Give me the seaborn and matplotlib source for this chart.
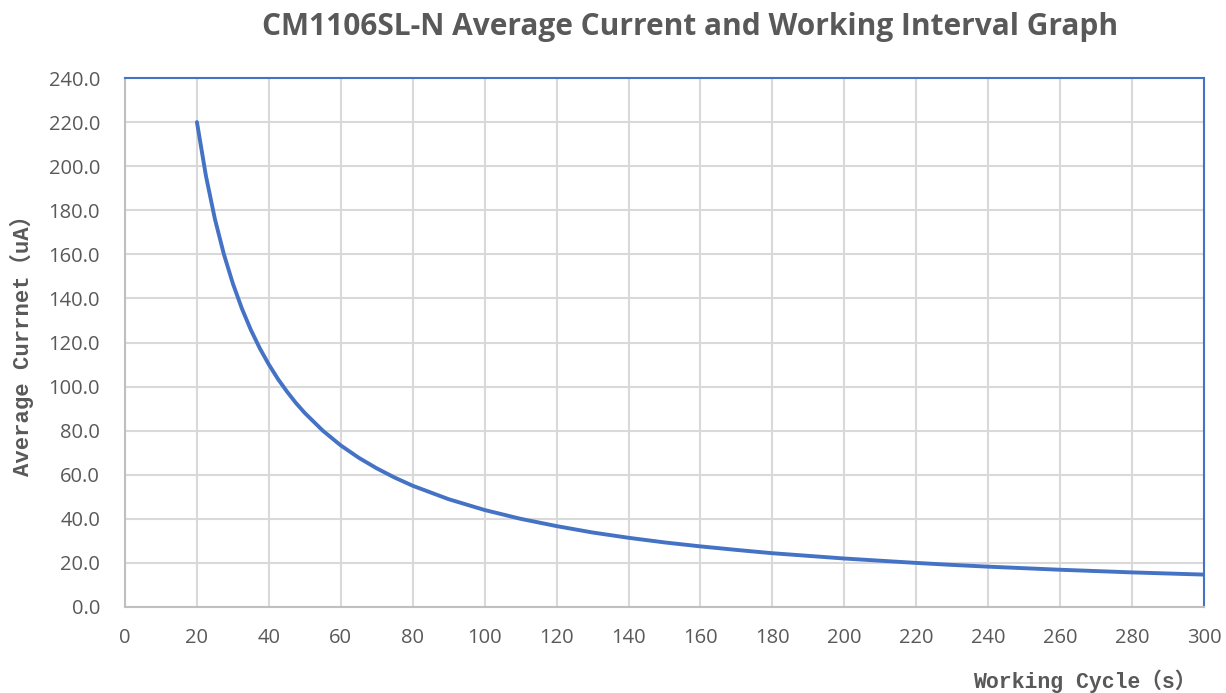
import matplotlib
matplotlib.use("Agg")
import matplotlib.pyplot as plt
import seaborn as sns
import pandas as pd

# values
cycle_s = [20, 22.5, 25, 27.5, 30, 32.5, 35, 37.5, 40, 42.5, 45, 47.5, 50, 55,
           60, 65, 70, 75, 80, 90, 100, 110, 120, 130, 140, 150, 160, 170, 180,
           190, 200, 210, 220, 230, 240, 250, 260, 270, 280, 290, 300]
current_ua = [220.0, 195.6, 176.0, 160.0, 146.7, 135.4, 125.7, 117.3, 110.0,
              103.5, 97.8, 92.6, 88.0, 80.0, 73.3, 67.7, 62.9, 58.7, 55.0, 48.9,
              44.0, 40.0, 36.7, 33.8, 31.4, 29.3, 27.5, 25.9, 24.4, 23.2, 22.0,
              21.0, 20.0, 19.1, 18.3, 17.6, 16.9, 16.3, 15.7, 15.2, 14.7]
x_ticks = list(range(0, 301, 20))
y_ticks = [0, 20, 40, 60, 80, 100, 120, 140, 160, 180, 200, 220, 240]

title = "CM1106SL-N Average Current and Working Interval Graph"
x_label = "Working Cycle\uff08s\uff09"
y_label = "Average Currnet\uff08uA\uff09"

df = pd.DataFrame({"cycle": cycle_s, "current": current_ua})

sns.set_style("white")
plt.rcParams["font.family"] = ["Open Sans", "DejaVu Sans"]

blue = "#4472C4"
text_grey = "#595959"

fig = plt.figure(figsize=(12.26, 6.93), dpi=100)
ax = fig.add_axes([125 / 1226, 1 - 607 / 693, (1204 - 125) / 1226, (607 - 78) / 693])

sns.lineplot(data=df, x="cycle", y="current", ax=ax, color=blue, linewidth=2.8)

ax.set_xlim(0, 300)
ax.set_ylim(0, 240)
ax.set_xticks(x_ticks)
ax.set_yticks(y_ticks)
ax.set_yticklabels([f"{v:.1f}" for v in y_ticks])
ax.tick_params(axis="both", labelsize=14.5, colors=text_grey, length=0)
ax.tick_params(axis="y", pad=18)
ax.tick_params(axis="x", pad=15)
ax.grid(True, color="#D9D9D9", linewidth=1.5)
ax.set_axisbelow(True)

for side in ["top", "right"]:
    ax.spines[side].set_color(blue)
    ax.spines[side].set_linewidth(1.5)
for side in ["left", "bottom"]:
    ax.spines[side].set_color("#BFBFBF")
    ax.spines[side].set_linewidth(1.5)

ax.set_xlabel("")
ax.set_ylabel("")

label_font = ["Liberation Mono", "Noto Sans CJK SC"]
fig.text(1196 / 1226, 1 - 681 / 693, x_label, ha="right", va="center",
         fontsize=15.5, fontweight="bold", color=text_grey, family=label_font)
fig.text(22 / 1226, 1 - 340 / 693, y_label, ha="center", va="center",
         rotation=90, fontsize=16, fontweight="bold", color=text_grey,
         family=label_font)

fig.text(690 / 1226, 1 - 27 / 693, title, ha="center", va="center",
         fontsize=21.5, fontweight="bold", color=text_grey)

plt.savefig("out.png", dpi=100)
plt.close()
